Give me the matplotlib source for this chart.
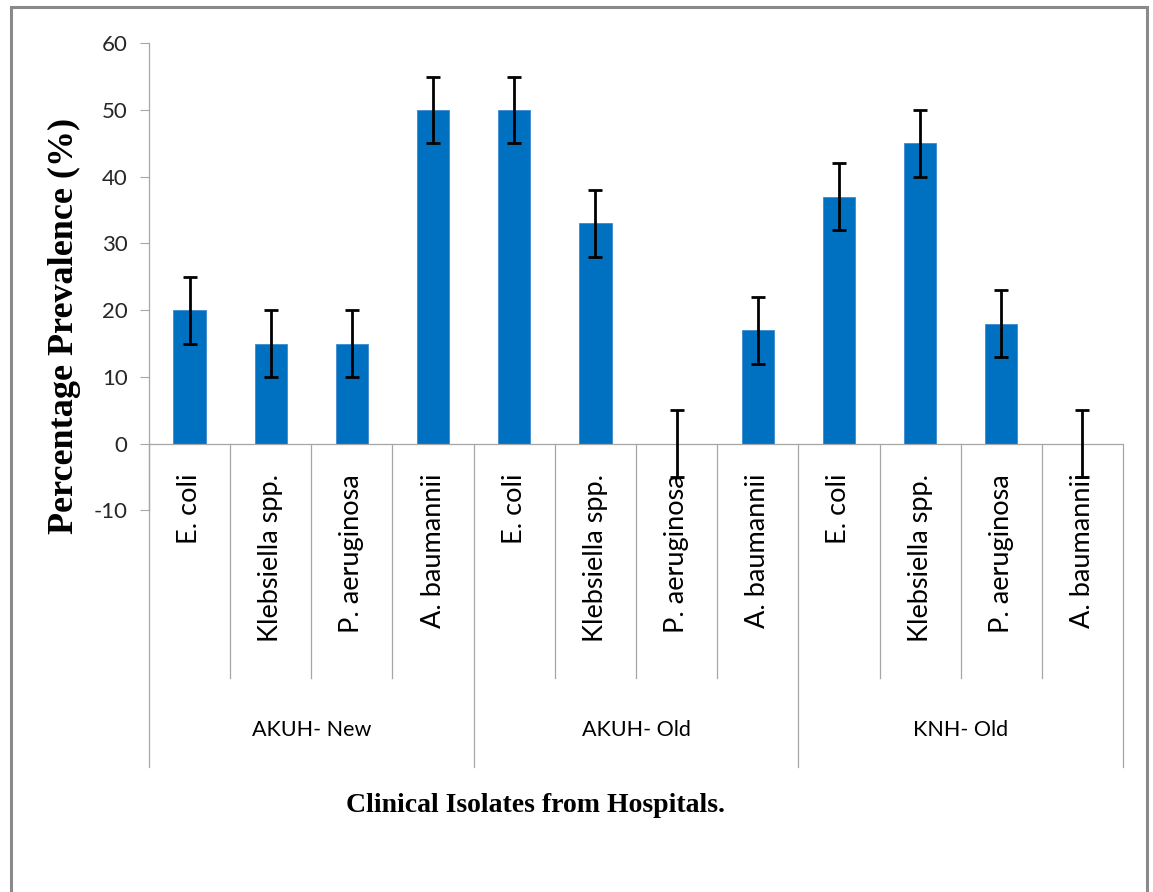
import matplotlib
matplotlib.use("Agg")
import matplotlib.pyplot as plt
from matplotlib.patches import Rectangle
from matplotlib.transforms import blended_transform_factory

# Data
hospitals = ["AKUH- New", "AKUH- Old", "KNH- Old"]
isolates = ["E. coli", "Klebsiella spp.", "P. aeruginosa", "A. baumannii"]
prevalence = [20, 15, 15, 50, 50, 33, 0, 17, 37, 45, 18, 0]
error = [5, 5, 5, 5, 5, 5, 5, 5, 5, 5, 5, 5]
yticks = [-10, 0, 10, 20, 30, 40, 50, 60]

W, H = 1153, 892
DPI = 100
BAR_COLOR = "#0070C0"
GRID_GRAY = "#a6a6a6"
SANS = ["Lato", "DejaVu Sans"]
SERIF = ["Liberation Serif", "DejaVu Serif"]


def fy(py):
    """Pixel row (from top) to figure fraction."""
    return 1 - py / H


fig = plt.figure(figsize=(W / DPI, H / DPI), dpi=DPI)
fig.patch.set_facecolor("white")

# Outer chart-area border
fig.add_artist(Rectangle((11 / W, -0.05), (1147 - 11) / W, fy(7) + 0.05,
                         transform=fig.transFigure, fill=False,
                         edgecolor="#8a8a8a", linewidth=2.2, zorder=0))

ax = fig.add_axes([149 / W, fy(510.4), (1123 - 149) / W, (510.4 - 43.3) / H])

n = len(prevalence)
x = list(range(n))
ax.bar(x, prevalence, width=0.4, color=BAR_COLOR, edgecolor="#3d8ad0",
       linewidth=0.6, zorder=2)
ax.errorbar(x, prevalence, yerr=error, fmt="none", ecolor="black",
            elinewidth=2, capsize=4.8, capthick=2, zorder=4, clip_on=False)

ax.set_xlim(-0.5, n - 0.5)
ax.set_ylim(min(yticks), max(yticks))
ax.set_yticks(yticks)
ax.set_yticklabels([str(t) for t in yticks], fontfamily=SANS, fontsize=16,
                   color="#262626")
ax.tick_params(axis="y", length=6.5, width=0.8, color=GRID_GRAY, pad=9)
ax.set_xticks([])

for side in ("top", "right", "bottom"):
    ax.spines[side].set_visible(False)
ax.spines["left"].set_color(GRID_GRAY)
ax.spines["left"].set_linewidth(0.9)
ax.axhline(0, color=GRID_GRAY, linewidth=0.9, zorder=3)

# Multi-level category axis below the zero line
trans = blended_transform_factory(ax.transData, fig.transFigure)
per_group = len(isolates)
for b in range(n + 1):
    xb = b - 0.5
    bottom = 767 if b % per_group == 0 else 678
    ax.plot([xb, xb], [fy(444), fy(bottom)], color=GRID_GRAY, linewidth=0.9,
            transform=trans, clip_on=False, zorder=1)

for i in range(n):
    ax.text(i, fy(474), isolates[i % per_group], rotation=90, ha="center",
            va="top", transform=trans, fontfamily=SANS, fontsize=19.5,
            color="black")

for g, name in enumerate(hospitals):
    xc = g * per_group + (per_group - 1) / 2
    ax.text(xc, fy(730), name, ha="center", va="center", transform=trans,
            fontfamily=SANS, fontsize=15.5, color="black")

fig.text(535 / W, fy(806), "Clinical Isolates from Hospitals.", ha="center",
         va="center", fontfamily=SERIF, fontweight="bold", fontsize=20)
fig.text(64 / W, fy(326), "Percentage Prevalence (%)", rotation=90,
         ha="center", va="center", fontfamily=SERIF, fontweight="bold",
         fontsize=26)

fig.savefig("out.png", dpi=DPI)
